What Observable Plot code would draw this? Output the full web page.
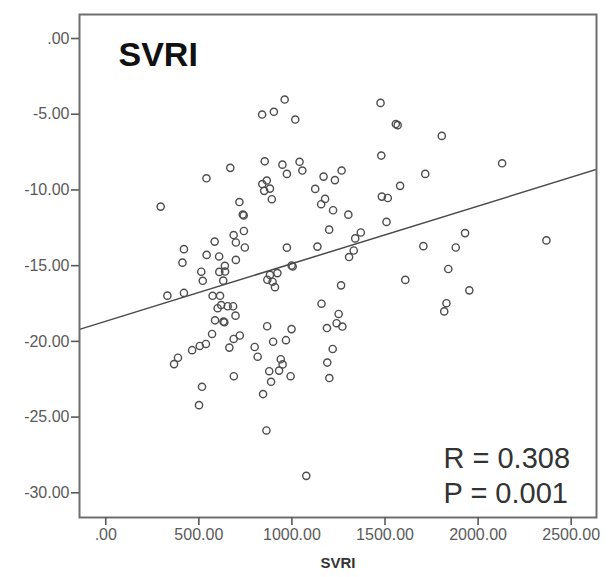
<!DOCTYPE html>
<html>
<head>
<meta charset="utf-8">
<script src="https://cdn.jsdelivr.net/npm/d3@7"></script>
<script src="https://cdn.jsdelivr.net/npm/@observablehq/plot@0.6"></script>
<style>
  html, body { margin: 0; padding: 0; background: #fff; }
  #chart svg { display: block; }
</style>
</head>
<body>
<div id="chart"></div>
<script>
// SVRI (x) values
const svri = [
  295, 420, 412, 331, 420, 388, 367, 464, 505, 538, 517, 501, 541, 669,
  513, 521, 542, 585, 609, 640, 610, 641, 631, 699, 718, 736, 741, 742, 687, 699, 747,
  840, 903, 961, 1018, 854, 949, 973, 1041, 1056, 841, 865, 851, 882, 892,
  973, 998, 1004, 922, 882, 868, 896, 909,
  574, 614, 601, 620, 655, 684, 697, 587, 632, 637, 571, 687, 720, 664, 688,
  800, 816, 867, 899, 968, 998, 940, 950, 878, 931, 993, 888, 845, 863, 1077,
  1170, 1231, 1267, 1125, 1178, 1157, 1221, 1303, 1200, 1137, 1370, 1340, 1332, 1307,
  1264, 1159, 1251, 1240, 1271, 1188, 1219, 1190, 1201,
  1476, 1558, 1568, 1805, 1480, 2129, 1716, 1581, 1483, 1515, 1508, 1930, 1706, 1880,
  2367, 1840, 1609, 1953, 1830, 1818
];
// Y values (paired with svri)
const yValues = [
  -11.10, -13.91, -14.80, -16.98, -16.80, -21.08, -21.50, -20.58, -20.30, -20.17, -23.00, -24.21, -9.23, -8.54,
  -15.40, -16.00, -14.29, -13.41, -14.39, -15.01, -15.41, -15.39, -15.99, -14.62, -10.80, -11.62, -11.68, -12.71, -12.98, -13.47, -13.80,
  -5.02, -4.84, -4.03, -5.35, -8.11, -8.33, -8.94, -8.14, -8.72, -9.61, -9.38, -10.06, -9.91, -10.61,
  -13.81, -14.99, -15.05, -15.49, -15.61, -15.93, -16.06, -16.42,
  -16.99, -16.99, -17.81, -17.60, -17.68, -17.68, -18.30, -18.61, -18.69, -18.74, -19.51, -19.84, -19.61, -20.41, -22.30,
  -20.37, -21.01, -19.00, -20.02, -19.92, -19.19, -21.18, -21.52, -21.97, -21.93, -22.30, -22.67, -23.48, -25.88, -28.88,
  -9.12, -9.35, -8.72, -9.93, -10.59, -10.94, -11.34, -11.63, -12.62, -13.74, -12.81, -13.20, -14.00, -14.43,
  -16.30, -17.51, -18.19, -18.80, -19.02, -19.12, -20.50, -21.40, -22.42,
  -4.25, -5.65, -5.72, -6.43, -7.73, -8.24, -8.94, -9.73, -10.44, -10.53, -12.11, -12.85, -13.71, -13.80,
  -13.33, -15.22, -15.94, -16.63, -17.48, -18.02
];
const xTicks = [0, 500, 1000, 1500, 2000, 2500];
const yTicks = [0, -5, -10, -15, -20, -25, -30];
const xDomain = [-141, 2636];
const yDomain = [-31.63, 1.586];
// fitted regression line
const fitIntercept = -18.67;
const fitSlope = 0.003804;
const titleText = "SVRI";
const xLabel = "SVRI";
const statLines = ["R = 0.308", "P = 0.001"];

const points = svri.map((x, i) => ({x, y: yValues[i]}));
const fitLine = xDomain.map(x => ({x, y: fitIntercept + fitSlope * x}));
const fmt = d => d === 0 ? ".00" : d.toFixed(2);

const chart = Plot.plot({
  width: 608,
  height: 577,
  marginLeft: 79,
  marginRight: 12,
  marginTop: 14,
  marginBottom: 60,
  style: {fontFamily: "'Liberation Sans', Arial, sans-serif", fontSize: "16px", color: "#5a5a5a", background: "#fff", overflow: "visible"},
  x: {domain: xDomain},
  y: {domain: yDomain},
  marks: [
    Plot.line(fitLine, {x: "x", y: "y", stroke: "#4a4a4a", strokeWidth: 1.5, clip: true}),
    Plot.dot(points, {x: "x", y: "y", r: 3.6, stroke: "#4d4d4d", strokeWidth: 1.4, fill: "none"}),
    Plot.frame({stroke: "#6e6e6e", strokeWidth: 2}),
    Plot.axisY({ticks: yTicks, tickFormat: fmt, tickSize: 8, tickPadding: 2, strokeWidth: 1.6, label: null}),
    Plot.axisX({ticks: xTicks, tickFormat: fmt, tickSize: 8, tickPadding: 3, strokeWidth: 1.6, label: null}),
    Plot.text([titleText], {frameAnchor: "top-left", dx: 39, dy: 27.5, lineAnchor: "top", textAnchor: "start", fontSize: 34, fontWeight: "bold", fill: "#111"}),
    Plot.text([statLines.join("\n")], {frameAnchor: "top-left", dx: 364, dy: 428, lineAnchor: "top", textAnchor: "start", fontSize: 29, lineHeight: 1.22, fill: "#333"}),
    Plot.text([xLabel], {frameAnchor: "bottom", dy: 50, fontSize: 15, fontWeight: "bold", fill: "#333"})
  ]
});
document.getElementById("chart").appendChild(chart);
</script>
</body>
</html>
